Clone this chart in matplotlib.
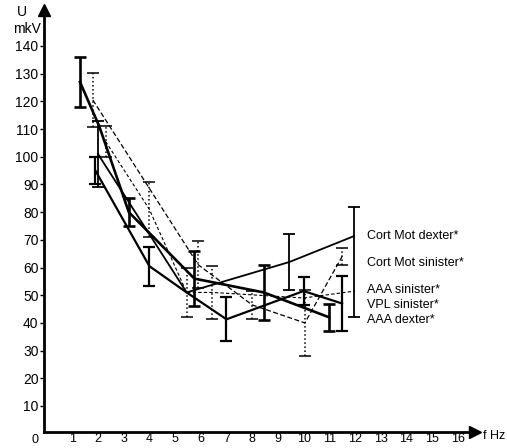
import matplotlib.pyplot as plt

plt.rcParams['font.family'] = ['Liberation Sans', 'DejaVu Sans']

# frequency (Hz), amplitude (mkV), error half-widths
cmd_f = [2.0, 5.45, 9.45, 11.95]
cmd_u = [101, 51, 62, 71.3]
cmd_lo = [12, 0, 10, 29]
cmd_hi = [12, 0, 10, 10.4]

cms_f = [1.8, 5.9, 8.0, 10.05, 11.5]
cms_u = [120.5, 61, 46.5, 40, 64]
cms_lo = [9.7, 8.5, 5, 12, 3]
cms_hi = [9.7, 8.5, 5, 12, 3]

aaas_f = [2.3, 4.0, 5.45, 6.45, 10.0, 12.0]
aaas_u = [105.5, 81, 51, 51, 49, 51.5]
aaas_lo = [5.5, 10, 9, 9.7, 0, 0]
aaas_hi = [5.5, 10, 9, 9.7, 0, 0]

vpl_f = [1.9, 4.0, 5.45, 7.0, 10.0, 11.5]
vpl_u = [95, 60.5, 51, 41.3, 51.5, 47]
vpl_lo = [5, 7, 0, 8, 5, 10]
vpl_hi = [5, 7, 0, 8, 5, 10]

aaad_f = [1.3, 2.05, 3.2, 5.75, 8.45, 11.0]
aaad_u = [127, 111, 80, 56, 51, 42]
aaad_lo = [9, 0, 5, 10, 10, 5]
aaad_hi = [9, 0, 5, 10, 10, 5]

labels = ["Cort Mot dexter*", "Cort Mot sinister*", "AAA sinister*", "VPL sinister*", "AAA dexter*"]
label_u = [71.5, 61.5, 52, 46.5, 41]

y_ticks = list(range(10, 150, 10))
x_ticks = list(range(1, 17))

fig = plt.figure(figsize=(5.07, 4.48), dpi=100)
ax = fig.add_axes([44 / 507, 16 / 448, 431 / 507, 422 / 448])

series = [
    (cmd_f, cmd_u, cmd_lo, cmd_hi, '-', 1.3, '-', 1.3),
    (cms_f, cms_u, cms_lo, cms_hi, (0, (4, 2)), 0.9, ':', 1.1),
    (aaas_f, aaas_u, aaas_lo, aaas_hi, (0, (3, 2)), 0.8, ':', 1.1),
    (vpl_f, vpl_u, vpl_lo, vpl_hi, '-', 1.6, '-', 1.6),
    (aaad_f, aaad_u, aaad_lo, aaad_hi, '-', 1.9, '-', 1.9),
]

for f, u, lo, hi, ls, lw, els, elw in series:
    ax.plot(f, u, color='black', linestyle=ls, linewidth=lw)
    keep = [i for i in range(len(f)) if lo[i] > 0 or hi[i] > 0]
    eb = ax.errorbar([f[i] for i in keep], [u[i] for i in keep],
                     yerr=[[lo[i] for i in keep], [hi[i] for i in keep]],
                     fmt='none', ecolor='black', elinewidth=elw, capsize=4, capthick=elw)
    eb[2][0].set_linestyle(els)

for name, uu in zip(labels, label_u):
    ax.text(12.45, uu, name, fontsize=9, va='center', ha='left')

ax.set_xlim(-0.1, 16.67)
ax.set_ylim(0.6, 153)
ax.spines['top'].set_visible(False)
ax.spines['right'].set_visible(False)
ax.spines['left'].set_linewidth(2)
ax.spines['bottom'].set_linewidth(2)
ax.set_yticks(y_ticks)
ax.set_xticks(x_ticks)
ax.tick_params(axis='y', length=3, width=1, labelsize=10, pad=1)
ax.tick_params(axis='x', length=0, labelsize=9, pad=1)

# arrow heads
ax.plot(1, 0, '>k', markersize=9, transform=ax.transAxes, clip_on=False)
ax.plot(0, 1, '^k', markersize=9, transform=ax.transAxes, clip_on=False)

ax.text(-0.012, -0.004, '0', transform=ax.transAxes, fontsize=9, ha='right', va='top')
ax.text(1.018, -0.01, 'f Hz', transform=ax.transAxes, fontsize=9, ha='left', va='center')
fig.text(17 / 507, 1 - 12 / 448, 'U', fontsize=10, ha='left', va='center')
fig.text(13 / 507, 1 - 29 / 448, 'mkV', fontsize=10, ha='left', va='center')

fig.savefig('out.png', dpi=100)
